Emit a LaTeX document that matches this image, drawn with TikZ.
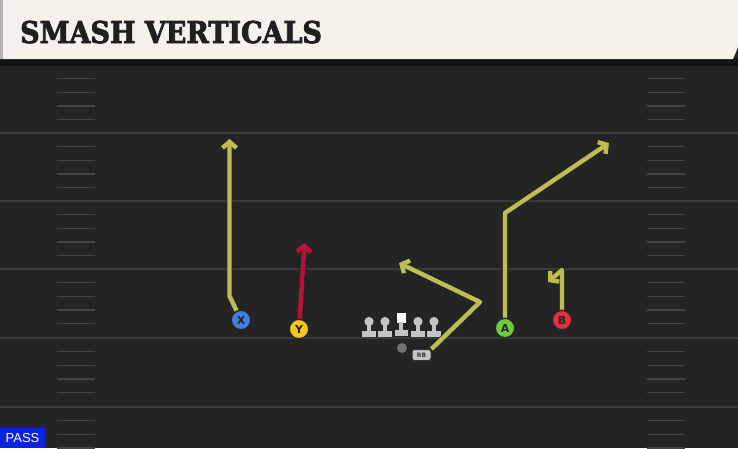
\documentclass[tikz,border=0pt]{standalone}
\usepackage{fontspec}
\setmainfont{DejaVu Serif}
\newfontfamily\titlefont[FakeBold=2.6]{DejaVu Serif Condensed}
\newfontfamily\labfont{DejaVu Sans}
\newfontfamily\passfont{Liberation Sans}
\usetikzlibrary{arrows.meta}
\definecolor{field}{HTML}{242424}
\definecolor{cream}{HTML}{F5F2EB}
\definecolor{yardc}{HTML}{3A3A3A}
\definecolor{hashc}{HTML}{444444}
\definecolor{routeo}{HTML}{BDBE52}
\definecolor{router}{HTML}{B3123B}
\definecolor{xblue}{HTML}{3F7FE3}
\definecolor{yyel}{HTML}{F6C61C}
\definecolor{agreen}{HTML}{6ECB3C}
\definecolor{bred}{HTML}{E2313D}
\definecolor{linec}{HTML}{C4C4C4}
\definecolor{passblue}{HTML}{0B22E0}
\tikzset{
  player/.style={circle, draw=black!85, line width=1.4pt, minimum size=19.5pt, inner sep=0pt, font=\labfont\bfseries\fontsize{11}{11}\selectfont, text=black!85},
  route/.style={line width=4.4pt, draw=routeo, line join=round, preaction={draw=black!85, line width=6pt}, -{Straight Barb[length=6pt,width=14pt]}},
  redroute/.style={route, draw=router},
  yardline/.style={draw=yardc, line width=1.8pt},
  hashm/.style={draw=hashc, line width=1.4pt},
  lineman/.style={fill=linec},
}
\begin{document}
\begin{tikzpicture}[x=1pt,y=-1pt]
\useasboundingbox (0,0) rectangle (738,448);
\fill[field] (0,0) rectangle (738,448);
% yard lines
\foreach \yy in {133,201,269,338,407} \draw[yardline] (0,\yy) -- (738,\yy);
% hash marks
\foreach \base in {65,133,201,269,338,407}{
  \foreach \k in {1,2,3,4}{
    \pgfmathsetmacro{\hy}{\base+13.6*\k}
    \draw[hashm] (57,\hy) -- (95,\hy);
    \draw[hashm] (647,\hy) -- (685,\hy);
  }
}
% title bar
\fill[black!92] (0,58) rectangle (738,66);
\fill[cream] (0,0) -- (738,0) -- (738,47) -- (733,59) -- (0,59) -- cycle;
\fill[black!30] (0,0) rectangle (3,59);
\node[anchor=base west, inner sep=0pt, text=black!88, font=\titlefont\bfseries\fontsize{30}{30}\selectfont] (title) at (20,43) {SMASH VERTICALS};
% linemen
\foreach \lx in {369,385,418,434}{
  \fill[lineman] (\lx,321.5) circle (4.6);
  \fill[lineman] (\lx-2.2,322) rectangle (\lx+2.2,332);
  \fill[lineman] (\lx-7,330.5) rectangle (\lx+7,336.5);
}
\fill[white] (396.5,313) rectangle (405.5,322.5);
\fill[lineman] (398.8,322) rectangle (403.2,331);
\fill[lineman] (394.5,329.5) rectangle (407.5,335.5);
\node[circle, fill=black!55, minimum size=10pt, inner sep=0pt] (qb) at (402,348) {};
\node[draw=black!80, line width=1pt, fill=black!22, rounded corners=2.5pt, minimum width=19pt, minimum height=11pt, inner sep=0pt, font=\labfont\bfseries\fontsize{6}{6}\selectfont, text=black!80] (rb) at (421.5,355) {RB};
% route coordinates
\coordinate (xb) at (229.5,296);
\coordinate (xe) at (229.5,139);
\coordinate (ye) at (304.5,243);
\coordinate (rbb) at (480,302);
\coordinate (rbe) at (399,263);
\coordinate (ab) at (505,213);
\coordinate (ae) at (609,143);
\coordinate (bb) at (562,270);
\coordinate (be) at (548,282);
% players (positions)
\coordinate (Xc) at (241,320);
\coordinate (Yc) at (299,329);
\coordinate (Ac) at (505,328);
\coordinate (Bc) at (562,320);
% routes
\draw[route] (Xc) -- (xb) -- (xe);
\draw[redroute] (Yc) -- (ye);
\draw[route] (rb.north east) -- (rbb) -- (rbe);
\draw[route] (Ac) -- (ab) -- (ae);
\draw[route] (Bc) -- (bb) -- (be);
% players
\node[player, fill=xblue] (X) at (Xc) {X};
\node[player, fill=yyel] (Y) at (Yc) {Y};
\node[player, fill=agreen] (A) at (Ac) {A};
\node[player, fill=bred] (B) at (Bc) {B};
% pass label
\fill[passblue] (0,428) rectangle (45,448);
\node[anchor=center, text=white, font=\passfont\fontsize{13}{13}\selectfont, inner sep=0pt] (pass) at (22.5,438.5) {PASS};
\end{tikzpicture}
\end{document}
